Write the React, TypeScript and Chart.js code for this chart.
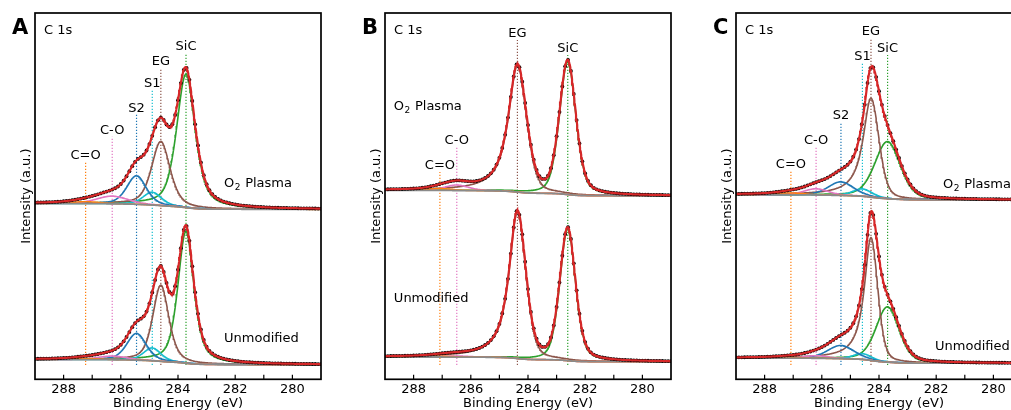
import React, { useEffect, useRef } from 'react';
import { Chart, registerables } from 'chart.js';

Chart.register(...registerables);

// ---------- shared axis data ----------
const E_LOW = 279;
const E_HIGH = 289;
const X_TICK_LABELS = [288, 286, 284, 282, 280];
const X_TICKS = [288, 287, 286, 285, 284, 283, 282, 281, 280];
const SPECTRA_NAMES = ['O2 Plasma', 'Unmodified'];

// ---------- panel A ----------
const A_COMPONENTS = ['C=O', 'C-O', 'S2', 'S1', 'EG', 'SiC'];
const A_CENTER = [287.23, 286.3, 285.45, 284.9, 284.6, 283.72];
const A_ETA_HIGH_BE = [0.3, 0.3, 0.4, 0.4, 0.5, 0.5];
const A_ETA_LOW_BE = [0.3, 0.3, 0.4, 0.4, 0.5, 0.6];
const A_PLASMA_HEIGHT = [0.5, 2.1, 7.8, 3.5, 17.5, 36.4];
const A_PLASMA_FWHM = [1.2, 1.3, 0.8, 0.76, 0.76, 0.77];
const A_PLASMA_BACKGROUND = [48.0, 46.4]; // [289 eV, 279 eV]
const A_UNMOD_HEIGHT = [0.3, 1.0, 7.3, 3.5, 20.8, 36.0];
const A_UNMOD_FWHM = [1.2, 1.2, 0.8, 0.72, 0.66, 0.66];
const A_UNMOD_BACKGROUND = [5.4, 4.0];
const A_LINE_TOP = [59.4, 66.2, 72.2, 79.0, 85.0, 89.1];
const A_NAME_POS = [[282.39, 52.5], [282.39, 10.2]];

// ---------- panel B ----------
const B_COMPONENTS = ['C=O', 'C-O', 'EG', 'SiC'];
const B_CENTER = [287.08, 286.49, 284.37, 282.61];
const B_ETA_HIGH_BE = [0.3, 0.3, 0.9, 0.3];
const B_ETA_LOW_BE = [0.3, 0.3, 0.3, 0.4];
const B_PLASMA_HEIGHT = [0.5, 1.5, 34.6, 36.3];
const B_PLASMA_FWHM = [1.0, 1.0, 0.76, 0.68];
const B_PLASMA_BACKGROUND = [51.6, 50.1];
const B_UNMOD_HEIGHT = [0.2, 0.3, 40.1, 36.0];
const B_UNMOD_FWHM = [1.0, 1.0, 0.7, 0.65];
const B_UNMOD_BACKGROUND = [6.1, 4.8];
const B_LINE_TOP = [56.6, 63.4, 92.6, 88.5];
const B_NAME_POS = [[288.69, 73.5], [288.69, 21.1]];

// ---------- panel C ----------
const C_COMPONENTS = ['C=O', 'C-O', 'S2', 'S1', 'EG', 'SiC'];
const C_CENTER = [287.08, 286.2, 285.33, 284.58, 284.28, 283.7];
const C_ETA_HIGH_BE = [0.3, 0.3, 0.3, 0.3, 1.0, 0.3];
const C_ETA_LOW_BE = [0.3, 0.3, 0.3, 0.3, 0.3, 0.3];
const C_PLASMA_HEIGHT = [0.5, 1.7, 3.7, 2.0, 27.0, 15.6];
const C_PLASMA_FWHM = [1.1, 1.0, 1.05, 0.8, 0.66, 1.05];
const C_PLASMA_BACKGROUND = [50.4, 49.0];
const C_UNMOD_HEIGHT = [0.2, 0.7, 3.6, 1.6, 33.5, 15.1];
const C_UNMOD_FWHM = [1.1, 1.0, 1.1, 0.75, 0.56, 0.96];
const C_UNMOD_BACKGROUND = [5.8, 4.4];
const C_LINE_TOP = [56.9, 63.4, 70.2, 86.4, 93.2, 88.5];
const C_NAME_POS = [[281.76, 52.2], [282.04, 8.0]];

const LINE_BOTTOM = 3.9;

const COMPONENT_COLORS: Record<string, string> = {
  'C=O': '#ff7f0e',
  'C-O': '#e377c2',
  S2: '#1f77b4',
  S1: '#17becf',
  EG: '#8c564b',
  SiC: '#2ca02c',
};
const FIT_COLOR = '#d62728';
const BG_COLOR = '#8a8a8a';
const FONT = '"DejaVu Sans", "Noto Sans", sans-serif';

type Spec = { h: number[]; w: number[]; bg: number[] };
type Panel = {
  letter: string;
  comps: string[];
  center: number[];
  etaHi: number[];
  etaLo: number[];
  specs: Spec[];
  lineTop: number[];
  namePos: number[][];
  left: number;
};

const PANELS: Panel[] = [
  {
    letter: 'A', comps: A_COMPONENTS, center: A_CENTER, etaHi: A_ETA_HIGH_BE, etaLo: A_ETA_LOW_BE,
    specs: [
      { h: A_PLASMA_HEIGHT, w: A_PLASMA_FWHM, bg: A_PLASMA_BACKGROUND },
      { h: A_UNMOD_HEIGHT, w: A_UNMOD_FWHM, bg: A_UNMOD_BACKGROUND },
    ],
    lineTop: A_LINE_TOP, namePos: A_NAME_POS, left: 0,
  },
  {
    letter: 'B', comps: B_COMPONENTS, center: B_CENTER, etaHi: B_ETA_HIGH_BE, etaLo: B_ETA_LOW_BE,
    specs: [
      { h: B_PLASMA_HEIGHT, w: B_PLASMA_FWHM, bg: B_PLASMA_BACKGROUND },
      { h: B_UNMOD_HEIGHT, w: B_UNMOD_FWHM, bg: B_UNMOD_BACKGROUND },
    ],
    lineTop: B_LINE_TOP, namePos: B_NAME_POS, left: 350,
  },
  {
    letter: 'C', comps: C_COMPONENTS, center: C_CENTER, etaHi: C_ETA_HIGH_BE, etaLo: C_ETA_LOW_BE,
    specs: [
      { h: C_PLASMA_HEIGHT, w: C_PLASMA_FWHM, bg: C_PLASMA_BACKGROUND },
      { h: C_UNMOD_HEIGHT, w: C_UNMOD_FWHM, bg: C_UNMOD_BACKGROUND },
    ],
    lineTop: C_LINE_TOP, namePos: C_NAME_POS, left: 701,
  },
];

// pseudo-Voigt peak (fit component line shape)
function peak(E: number, c: number, h: number, w: number, etaHi: number, etaLo: number) {
  const d = E - c;
  const eta = d >= 0 ? etaHi : etaLo;
  const r = (d / w) * (d / w);
  return h * (eta / (1 + 4 * r) + (1 - eta) * Math.exp(-4 * Math.LN2 * r));
}

function buildDatasets(panel: Panel) {
  const step = 0.02;
  const n = Math.round((E_HIGH - E_LOW) / step);
  const grid: number[] = [];
  for (let i = 0; i <= n; i++) grid.push(+(E_LOW + i * step).toFixed(3));
  const datasets: any[] = [];

  panel.specs.forEach((spec) => {
    const comps = panel.center.map((c, k) =>
      grid.map((E) => peak(E, c, spec.h[k], spec.w[k], panel.etaHi[k], panel.etaLo[k]))
    );
    const total = grid.map((_, i) => comps.reduce((s, cc) => s + cc[i], 0));
    // Shirley-type background from the high-BE and low-BE levels
    const cum: number[] = [];
    let acc = 0;
    total.forEach((t) => {
      acc += t;
      cum.push(acc);
    });
    const [bgHigh, bgLow] = spec.bg;
    const bg = grid.map((_, i) => bgLow + (bgHigh - bgLow) * (cum[i] / acc));

    const fit = grid.map((E, i) => ({ x: E, y: bg[i] + total[i] }));
    const dots = fit.filter((_, i) => i % 5 === 0);

    datasets.push({
      type: 'line', data: fit, borderColor: FIT_COLOR, borderWidth: 2.2, pointRadius: 0, order: 0,
    });
    datasets.push({
      type: 'line', data: dots, showLine: false, pointRadius: 1.9, pointBackgroundColor: '#000',
      pointBorderWidth: 0, order: 1,
    });
    datasets.push({
      type: 'line', data: grid.map((E, i) => ({ x: E, y: bg[i] })), borderColor: BG_COLOR,
      borderWidth: 1.8, pointRadius: 0, order: 2,
    });
    panel.comps.forEach((name, k) => {
      datasets.push({
        type: 'line',
        data: grid.map((E, i) => ({ x: E, y: bg[i] + comps[k][i] })),
        borderColor: COMPONENT_COLORS[name], borderWidth: 1.6, pointRadius: 0, order: 3,
      });
    });
  });

  panel.comps.forEach((name, k) => {
    datasets.push({
      type: 'line',
      data: [
        { x: panel.center[k], y: LINE_BOTTOM },
        { x: panel.center[k], y: panel.lineTop[k] },
      ],
      borderColor: COMPONENT_COLORS[name], borderWidth: 1.2, borderDash: [1.2, 1.8],
      pointRadius: 0, order: 4,
    });
  });
  return datasets;
}

function drawName(ctx: CanvasRenderingContext2D, text: string, x: number, y: number) {
  ctx.textAlign = 'left';
  ctx.textBaseline = 'alphabetic';
  if (text.startsWith('O2')) {
    ctx.font = `13px ${FONT}`;
    ctx.fillText('O', x, y);
    const w1 = ctx.measureText('O').width;
    ctx.font = `9px ${FONT}`;
    ctx.fillText('2', x + w1 + 0.5, y + 3);
    const w2 = ctx.measureText('2').width;
    ctx.font = `13px ${FONT}`;
    ctx.fillText(' Plasma', x + w1 + w2 + 1, y);
  } else {
    ctx.font = `13px ${FONT}`;
    ctx.fillText(text, x, y);
  }
}

function makeDecor(panel: Panel) {
  return {
    id: 'decor' + panel.letter,
    afterDraw(chart: any) {
      const { ctx, chartArea } = chart;
      const { left, right, top, bottom } = chartArea;
      const xs = chart.scales.x;
      const ys = chart.scales.y;
      ctx.save();
      ctx.fillStyle = '#000';
      ctx.strokeStyle = '#000';
      // ticks
      ctx.lineWidth = 1.2;
      X_TICKS.forEach((e) => {
        const px = xs.getPixelForValue(e);
        ctx.beginPath();
        ctx.moveTo(px, bottom);
        ctx.lineTo(px, bottom - 4.5);
        ctx.stroke();
      });
      // frame
      ctx.lineWidth = 1.7;
      ctx.strokeRect(left, top, right - left, bottom - top);
      // tick labels
      ctx.font = `13px ${FONT}`;
      ctx.textAlign = 'center';
      ctx.textBaseline = 'alphabetic';
      X_TICK_LABELS.forEach((e) => {
        ctx.fillText(String(e), xs.getPixelForValue(e), bottom + 13.5);
      });
      // axis titles
      ctx.fillText('Binding Energy (eV)', (left + right) / 2, bottom + 28);
      ctx.save();
      ctx.translate(left - 8, (top + bottom) / 2);
      ctx.rotate(-Math.PI / 2);
      ctx.textBaseline = 'middle';
      ctx.fillText('Intensity (a.u.)', 0, 0);
      ctx.restore();
      // panel letter and C 1s
      ctx.font = `bold 21px ${FONT}`;
      ctx.textAlign = 'left';
      ctx.fillText(panel.letter, left - 23, 33.5);
      ctx.font = `13px ${FONT}`;
      ctx.fillText('C 1s', left + 9, 34);
      // component labels
      ctx.textAlign = 'center';
      panel.comps.forEach((name, k) => {
        ctx.fillText(name, xs.getPixelForValue(panel.center[k]), ys.getPixelForValue(panel.lineTop[k]) - 3);
      });
      // spectrum names
      SPECTRA_NAMES.forEach((name, s) => {
        drawName(ctx, name, xs.getPixelForValue(panel.namePos[s][0]), ys.getPixelForValue(panel.namePos[s][1]));
      });
      ctx.restore();
    },
  };
}

function PanelChart({ panel }: { panel: Panel }) {
  const ref = useRef<HTMLCanvasElement>(null);
  useEffect(() => {
    if (!ref.current) return;
    const chart = new Chart(ref.current, {
      type: 'line',
      data: { datasets: buildDatasets(panel) },
      options: {
        animation: false,
        responsive: false,
        events: [],
        layout: { padding: { left: 35, right: 29, top: 13, bottom: 30.7 } },
        plugins: { legend: { display: false }, tooltip: { enabled: false } },
        scales: {
          x: { type: 'linear', min: E_LOW, max: E_HIGH, reverse: true, display: false },
          y: { type: 'linear', min: 0, max: 100, display: false },
        },
      },
      plugins: [makeDecor(panel)],
    } as any);
    return () => chart.destroy();
  }, [panel]);
  return (
    <canvas
      ref={ref}
      width={350}
      height={410}
      style={{ position: 'absolute', left: panel.left, top: 0, width: 350, height: 410 }}
    />
  );
}

export default function App() {
  return (
    <div
      style={{
        position: 'fixed', left: 0, top: 0, width: 1011, height: 410, overflow: 'hidden', background: '#fff',
      }}
    >
      {PANELS.map((p) => (
        <PanelChart key={p.letter} panel={p} />
      ))}
    </div>
  );
}
